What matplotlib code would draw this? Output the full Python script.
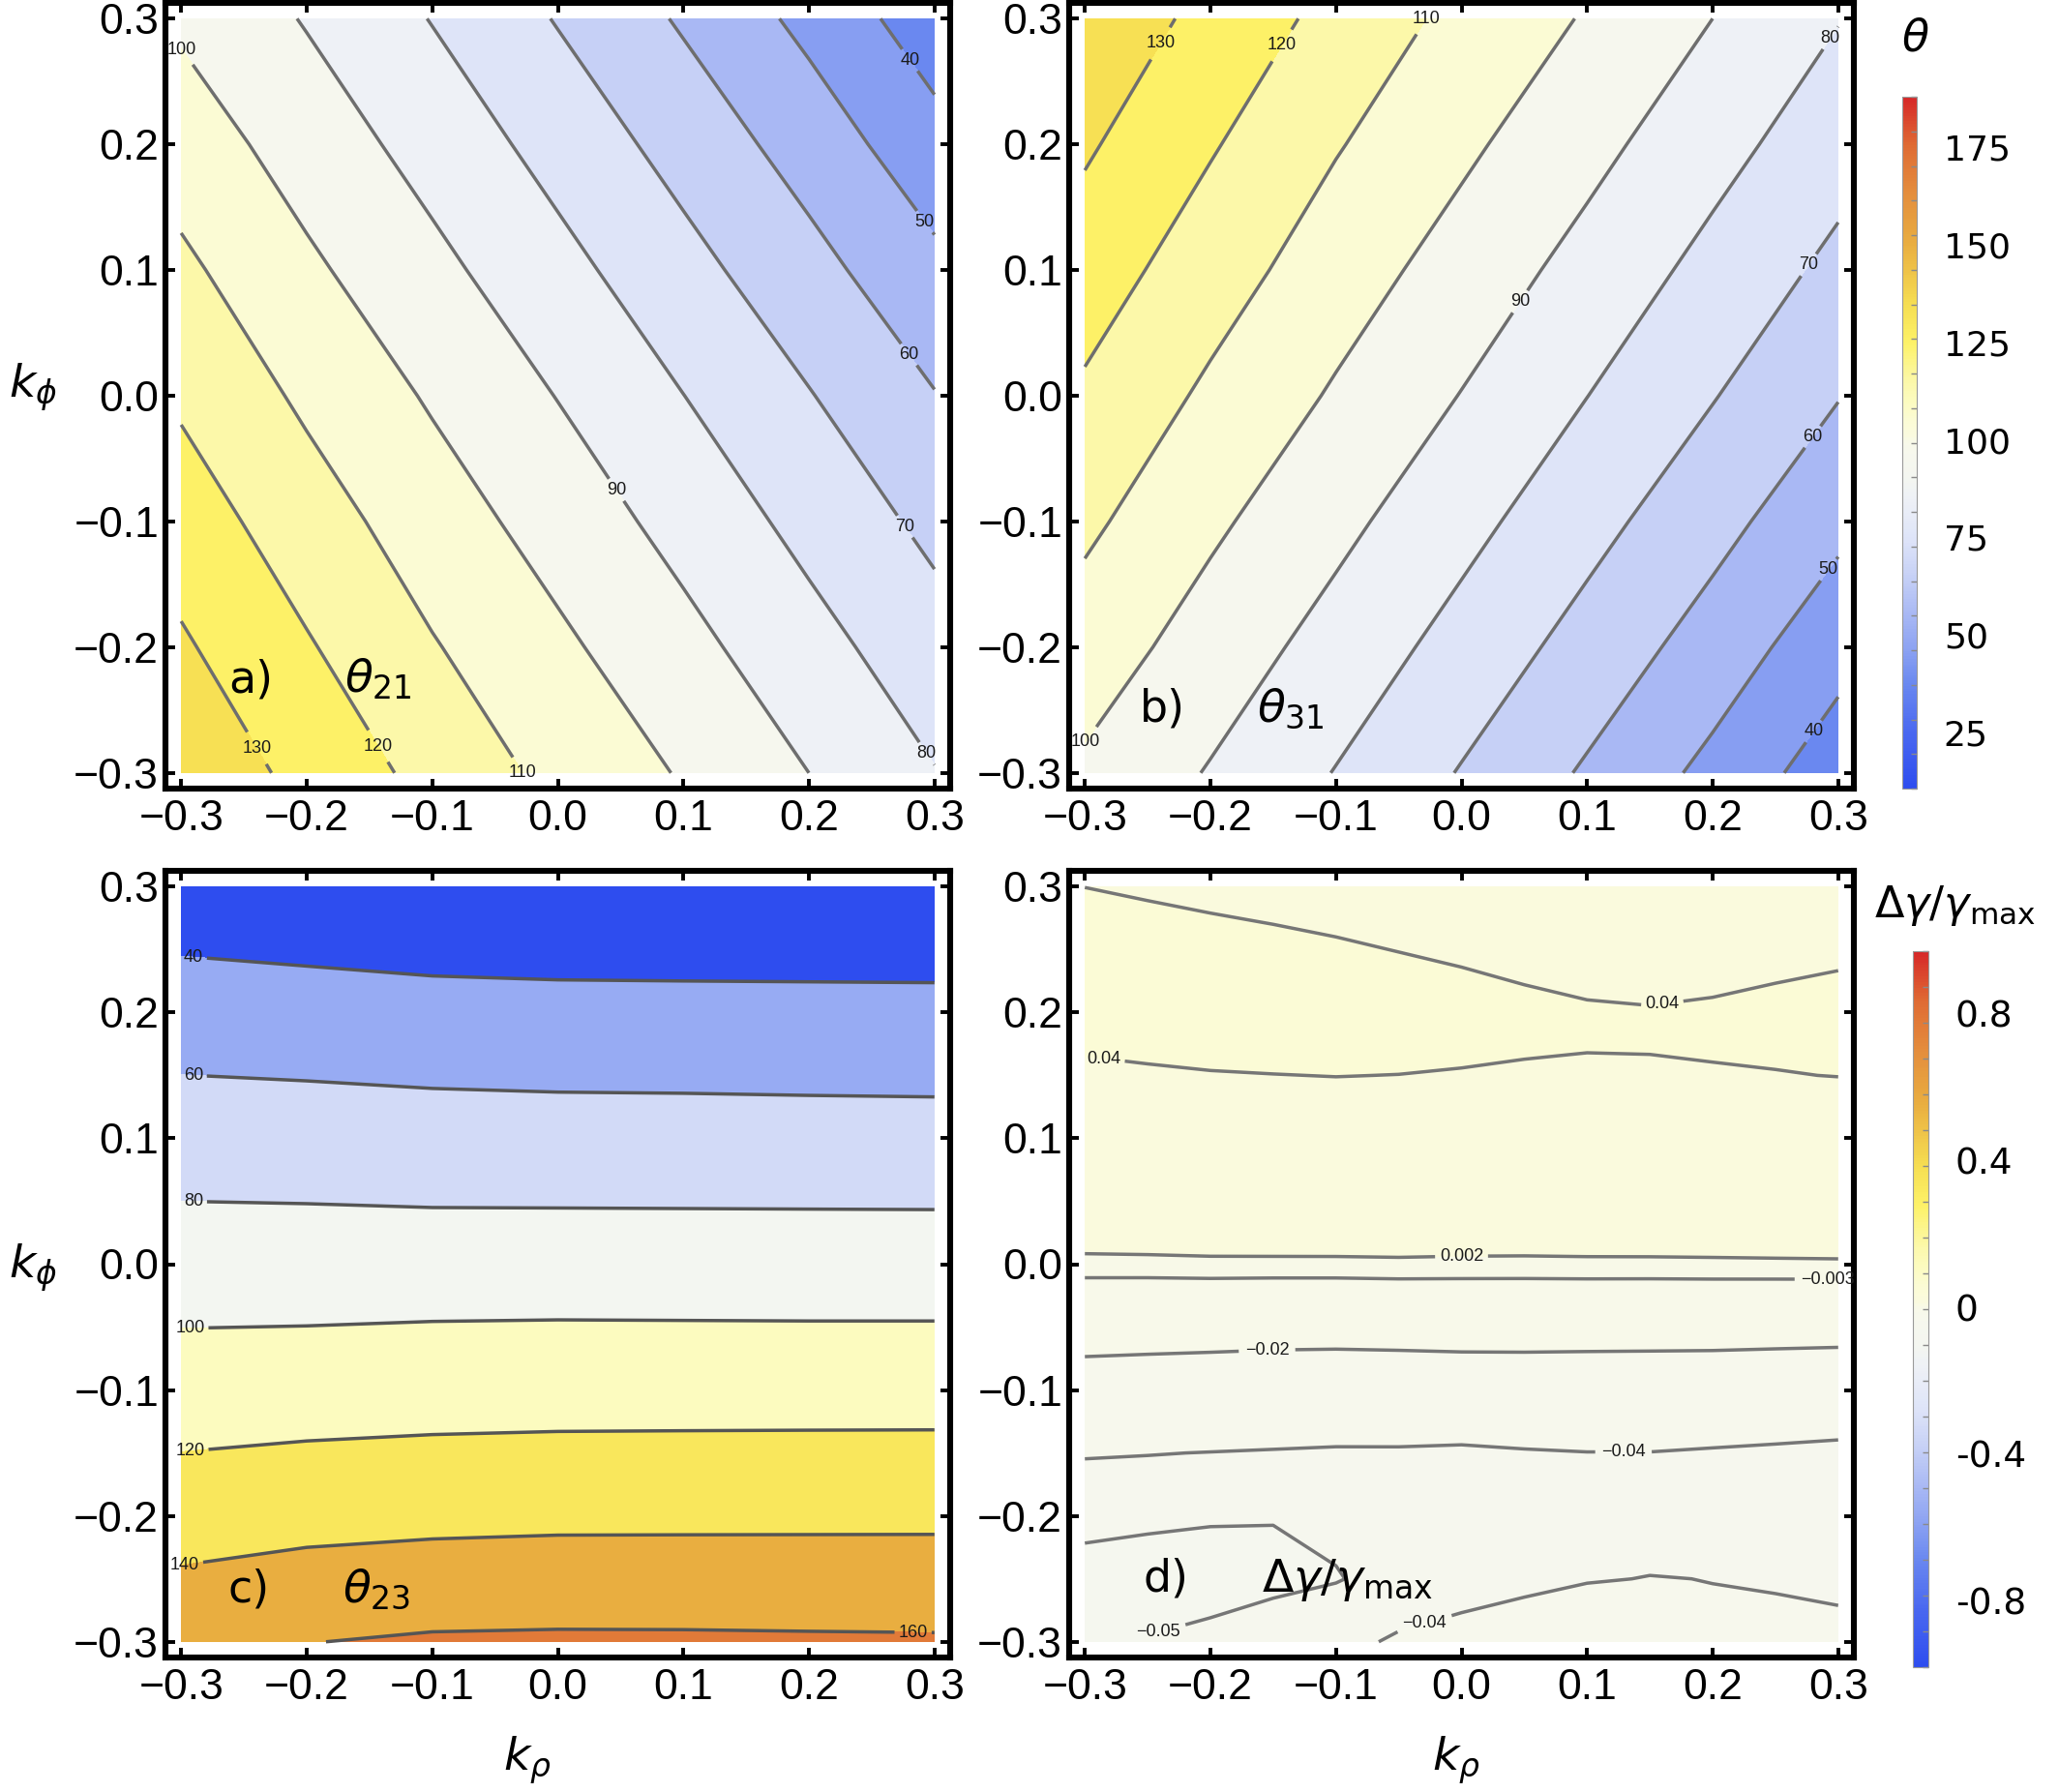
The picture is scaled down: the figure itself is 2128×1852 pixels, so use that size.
import numpy as np
import matplotlib
matplotlib.use("Agg")
import matplotlib.pyplot as plt
from matplotlib.colors import LinearSegmentedColormap, Normalize
from matplotlib.cm import ScalarMappable
from matplotlib.ticker import FixedLocator, FuncFormatter

plt.rcParams['mathtext.fontset'] = 'dejavusans'
plt.rcParams['font.family'] = ['DejaVu Sans']

# coarse grid for the three angle panels (rows = k_phi, columns = k_rho)
k_rho = [-0.3, -0.2, -0.1, 0.0, 0.1, 0.2, 0.3]
k_phi = [-0.3, -0.2, -0.1, 0.0, 0.1, 0.2, 0.3]
k_phi_c = [-0.3, -0.25, -0.2, -0.15, -0.1, -0.05, 0.0, 0.05, 0.1, 0.15, 0.2, 0.25, 0.3]
k_rho_d = [-0.3, -0.25, -0.2, -0.15, -0.1, -0.05, 0.0, 0.05, 0.1, 0.15, 0.2, 0.25, 0.3]
k_phi_d = [-0.3, -0.25, -0.2, -0.15, -0.1, -0.05, 0.0, 0.05, 0.1, 0.15, 0.2, 0.25, 0.3]

theta21 = [
    [137.7, 127.0, 117.0, 107.3, 99.2, 90.0, 80.4],
    [131.3, 120.9, 110.7, 101.9, 93.0, 83.5, 74.1],
    [125.0, 114.6, 104.8, 95.9, 86.6, 77.0, 67.5],
    [118.5, 108.2, 98.9, 89.7, 80.1, 70.5, 60.4],
    [112.0, 101.8, 92.6, 83.1, 73.3, 63.3, 52.5],
    [105.2, 95.6, 86.2, 76.4, 66.3, 55.7, 43.6],
    [98.4, 89.3, 79.6, 69.4, 58.8, 47.3, 34.5],
]

theta31 = [
    [98.4, 89.3, 79.6, 69.4, 58.8, 47.3, 34.5],
    [105.2, 95.6, 86.2, 76.4, 66.3, 55.7, 43.6],
    [112.0, 101.8, 92.6, 83.1, 73.3, 63.3, 52.5],
    [118.5, 108.2, 98.9, 89.7, 80.1, 70.5, 60.4],
    [125.0, 114.6, 104.8, 95.9, 86.6, 77.0, 67.5],
    [131.3, 120.9, 110.7, 101.9, 93.0, 83.5, 74.1],
    [137.7, 127.0, 117.0, 107.3, 99.2, 90.0, 80.4],
]

theta23 = [
    [154.9, 159.6, 162.2, 162.7, 162.6, 162.2, 161.9],
    [142.4, 146.3, 148.3, 149.1, 149.1, 149.0, 148.9],
    [131.2, 133.7, 135.2, 136.0, 136.1, 136.2, 136.3],
    [120.2, 122.1, 123.3, 123.9, 124.1, 124.2, 124.3],
    [110.0, 111.1, 112.0, 112.5, 112.5, 112.6, 112.6],
    [99.8, 100.2, 101.0, 101.3, 101.2, 101.1, 101.1],
    [89.9, 89.9, 89.9, 90.0, 89.9, 89.8, 89.8],
    [80.0, 79.6, 78.9, 78.8, 78.7, 78.6, 78.5],
    [70.0, 69.4, 68.4, 68.0, 67.8, 67.5, 67.3],
    [60.1, 59.1, 57.8, 57.1, 56.9, 56.5, 56.2],
    [49.5, 48.1, 46.5, 45.8, 45.6, 45.4, 45.2],
    [38.9, 37.1, 35.3, 34.6, 34.4, 34.3, 34.2],
    [28.2, 26.2, 24.0, 23.4, 23.1, 23.2, 23.2],
]

dgamma = [
    [-0.0560, -0.0492, -0.0458, -0.0410, -0.0430, -0.0386, -0.0357, -0.0327, -0.0333, -0.0360, -0.0388, -0.0351, -0.0359],
    [-0.0542, -0.0569, -0.0568, -0.0540, -0.0505, -0.0470, -0.0450, -0.0430, -0.0405, -0.0398, -0.0401, -0.0415, -0.0430],
    [-0.0468, -0.0472, -0.0486, -0.0493, -0.0481, -0.0470, -0.0460, -0.0450, -0.0440, -0.0435, -0.0435, -0.0445, -0.0455],
    [-0.0393, -0.0397, -0.0402, -0.0407, -0.0412, -0.0412, -0.0417, -0.0408, -0.0402, -0.0402, -0.0410, -0.0418, -0.0427],
    [-0.0269, -0.0275, -0.0281, -0.0286, -0.0291, -0.0289, -0.0286, -0.0283, -0.0282, -0.0283, -0.0286, -0.0291, -0.0297],
    [-0.0139, -0.0143, -0.0146, -0.0151, -0.0151, -0.0148, -0.0144, -0.0145, -0.0148, -0.0149, -0.0149, -0.0152, -0.0154],
    [0.0000, 0.0001, 0.0004, 0.0004, 0.0004, 0.0006, 0.0004, 0.0004, 0.0006, 0.0006, 0.0007, 0.0008, 0.0009],
    [0.0120, 0.0126, 0.0131, 0.0133, 0.0135, 0.0135, 0.0130, 0.0125, 0.0123, 0.0125, 0.0128, 0.0134, 0.0139],
    [0.0242, 0.0252, 0.0260, 0.0265, 0.0269, 0.0266, 0.0257, 0.0247, 0.0240, 0.0243, 0.0250, 0.0261, 0.0271],
    [0.0363, 0.0377, 0.0390, 0.0397, 0.0403, 0.0398, 0.0388, 0.0381, 0.0386, 0.0393, 0.0392, 0.0394, 0.0403],
    [0.0485, 0.0503, 0.0519, 0.0529, 0.0536, 0.0520, 0.0490, 0.0455, 0.0425, 0.0414, 0.0430, 0.0458, 0.0483],
    [0.0470, 0.0480, 0.0470, 0.0450, 0.0425, 0.0395, 0.0365, 0.0330, 0.0300, 0.0287, 0.0305, 0.0333, 0.0358],
    [0.0399, 0.0377, 0.0349, 0.0325, 0.0300, 0.0300, 0.0280, 0.0260, 0.0240, 0.0240, 0.0260, 0.0280, 0.0300],
]

levels_21 = [40, 50, 60, 70, 80, 90, 100, 110, 120, 130]
levels_31 = [40, 50, 60, 70, 80, 90, 100, 110, 120, 130]
levels_23 = [40, 60, 80, 100, 120, 140, 160]
levels_dg = [-0.05, -0.04, -0.02, -0.003, 0.002, 0.04]

theta_range = (10.6, 188.0)
dg_range = (-0.98, 0.97)
theta_ticks = [25, 50, 75, 100, 125, 150, 175]
dg_ticks = [-0.8, -0.4, 0.0, 0.4, 0.8]
dg_ticklabels = ['-0.8', '-0.4', '0', '0.4', '0.8']
axis_ticks = [-0.3, -0.2, -0.1, 0.0, 0.1, 0.2, 0.3]

cmap = LinearSegmentedColormap.from_list('temperature', [
    (0.00, '#2e4def'), (0.08, '#4a68f0'), (0.15, '#6a88f0'), (0.20, '#8ca2f2'),
    (0.25, '#a8b8f4'), (0.31, '#c8d2f6'), (0.36, '#dee4f8'), (0.42, '#eef1f6'),
    (0.45, '#f4f6f0'), (0.48, '#f6f7ee'), (0.50, '#f8f9ea'), (0.51, '#fafadf'),
    (0.53, '#fbfbd6'), (0.56, '#fcfbc0'), (0.59, '#fcf8a8'), (0.645, '#fdf268'),
    (0.70, '#f6de52'), (0.79, '#e9ad40'), (0.86, '#e48e3d'), (0.93, '#df6c34'),
    (1.00, '#d62828')])
norm_t = Normalize(*theta_range)
norm_d = Normalize(*dg_range)

W, H = 2128, 1852
fig = plt.figure(figsize=(W / 100, H / 100), dpi=100)


def box(x0, y0, x1, y1):
    return [x0 / W, 1 - y1 / H, (x1 - x0) / W, (y1 - y0) / H]


def minus(s):
    return s.replace('-', '\u2212')


def panel(ax, x, y, z, levels, shade, norm, fmt, label_pos, lcolor):
    z = np.array(z)
    ax.contourf(x, y, z, levels=[shade[0]] + levels + [shade[1]], cmap=cmap, norm=norm)
    cs = ax.contour(x, y, z, levels=levels, colors=lcolor, linewidths=2.5,
                    linestyles='solid')
    texts = ax.clabel(cs, levels, manual=label_pos, inline=True, inline_spacing=3,
                      fmt=fmt, fontsize=13, colors='#1a1a1a')
    for t in texts:
        t.set_rotation(0)
        t.set_fontfamily('Liberation Sans')
    ax.set_xlim(-0.3125, 0.3125)
    ax.set_ylim(-0.3125, 0.3125)
    ax.set_xticks(axis_ticks)
    ax.set_yticks(axis_ticks)
    fm = FuncFormatter(lambda v, _: minus(f"{v:.1f}") if abs(v) > 1e-9 else "0.0")
    ax.xaxis.set_major_formatter(fm)
    ax.yaxis.set_major_formatter(fm)
    ax.tick_params(direction='in', length=7, width=2.8, top=True, right=True,
                   labelsize=32, color='black')
    ax.tick_params(axis='x', pad=8)
    ax.tick_params(axis='y', pad=5)
    for lab in ax.get_xticklabels() + ax.get_yticklabels():
        lab.set_fontfamily('Liberation Sans')
    for s in ax.spines.values():
        s.set_linewidth(4.4)


fmt_t = lambda v: f"{v:.0f}"
fmt_d = lambda v: minus(f"{v:g}")

ax_a = fig.add_axes(box(171, 3, 982, 815))
ax_b = fig.add_axes(box(1105, 3, 1916, 815))
ax_c = fig.add_axes(box(171, 900, 982, 1713))
ax_d = fig.add_axes(box(1105, 900, 1916, 1713))

t21 = np.array(theta21)
panel(ax_a, k_rho, k_phi, theta21, levels_21, (t21.min(), t21.max()), norm_t, fmt_t,
      [(-0.297, 0.277), (0.048, -0.074), (0.293, -0.285), (0.278, -0.103), (0.280, 0.033),
       (0.293, 0.139), (0.279, 0.266), (-0.021, -0.299), (-0.142, -0.278), (-0.241, -0.281)],
      '#6e6e6e')
t31 = np.array(theta31)
panel(ax_b, k_rho, k_phi, theta31, levels_31, (t31.min(), t31.max()), norm_t, fmt_t,
      [(-0.297, -0.277), (0.048, 0.074), (0.293, 0.285), (0.278, 0.103), (0.280, -0.033),
       (0.293, -0.139), (0.279, -0.266), (-0.021, 0.299), (-0.142, 0.278), (-0.241, 0.281)],
      '#6e6e6e')
panel(ax_c, k_rho, k_phi_c, theta23, levels_23, (-20.0, 180.0), norm_t, fmt_t,
      [(-0.29, 0.245), (-0.29, 0.152), (-0.29, 0.05), (-0.293, -0.05), (-0.293, -0.148),
       (-0.297, -0.24), (0.283, -0.292)],
      '#555555')
panel(ax_d, k_rho_d, k_phi_d, dgamma, levels_dg, (-0.07, 0.06), norm_d, fmt_d,
      [(0.16, 0.206), (-0.285, 0.163), (0.0, 0.008), (0.292, -0.011), (-0.155, -0.066),
       (0.129, -0.15), (-0.24, -0.298), (-0.029, -0.287)],
      '#767676')

# panel tags
for ax, tag, name, xt, xn, yb in [
        (ax_a, 'a)', r'$\theta_{21}$', 0.081, 0.228, 0.122),
        (ax_b, 'b)', r'$\theta_{31}$', 0.090, 0.239, 0.085),
        (ax_c, 'c)', r'$\theta_{23}$', 0.080, 0.226, 0.071),
        (ax_d, 'd)', r'$\Delta\gamma/\gamma_{\mathrm{max}}$', 0.094, 0.245, 0.084)]:
    ax.text(xt, yb, tag, transform=ax.transAxes, fontsize=33, va='baseline', ha='left')
    ax.text(xn, yb, name, transform=ax.transAxes, fontsize=34, va='baseline', ha='left')

# axis labels
for yy in (400, 1310):
    fig.text(34 / W, 1 - yy / H, r'$k_\phi$', fontsize=34, ha='center', va='center')
for xx in (545, 1505):
    fig.text(xx / W, 1 - 1819 / H, r'$k_\rho$', fontsize=34, ha='center', va='center')

# colour bars
cax1 = fig.add_axes(box(1966, 100, 1981, 815))
cb1 = fig.colorbar(ScalarMappable(norm=norm_t, cmap=cmap), cax=cax1)
cb1.set_ticks(theta_ticks)
cax1.yaxis.set_minor_locator(FixedLocator(np.linspace(theta_range[0], theta_range[1], 21)))
cax1.tick_params(which='major', length=0, labelsize=26, pad=20)
cax1.tick_params(which='minor', length=4, width=1, color='#8a8a8a', direction='in')
cb1.outline.set_edgecolor('#9a9a9a')
cb1.outline.set_linewidth(0.8)
fig.text(1980 / W, 1 - 40 / H, r'$\theta$', fontsize=33, ha='center', va='center')

cax2 = fig.add_axes(box(1977, 983, 1993, 1723))
cb2 = fig.colorbar(ScalarMappable(norm=norm_d, cmap=cmap), cax=cax2)
cb2.set_ticks(dg_ticks)
cb2.set_ticklabels(dg_ticklabels)
cax2.yaxis.set_minor_locator(FixedLocator(np.linspace(dg_range[0], dg_range[1], 21)))
cax2.tick_params(which='major', length=0, labelsize=27, pad=20)
cax2.tick_params(which='minor', length=4, width=1, color='#8a8a8a', direction='in')
cb2.outline.set_edgecolor('#9a9a9a')
cb2.outline.set_linewidth(0.8)
fig.text(1937 / W, 1 - 936 / H, r'$\Delta\gamma/\gamma_{\mathrm{max}}$', fontsize=32,
         ha='left', va='center')

fig.savefig('out.png', dpi=100)
